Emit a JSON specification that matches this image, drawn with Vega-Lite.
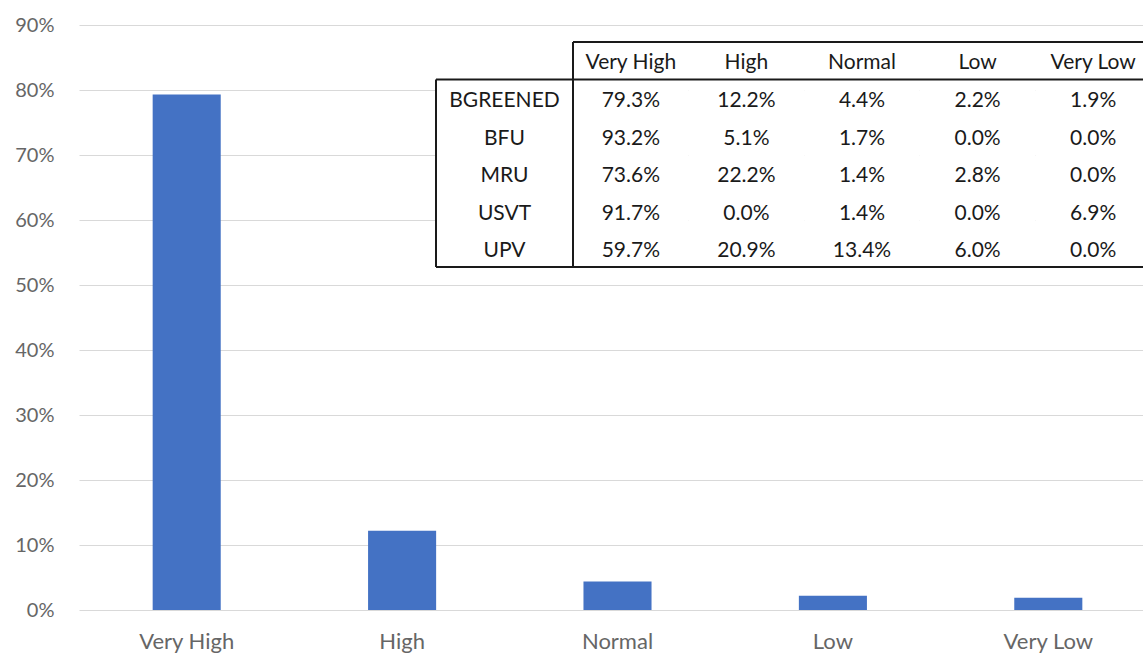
{
  "$schema": "https://vega.github.io/schema/vega-lite/v6.json",
  "width": 1064,
  "height": 585,
  "autosize": {"type": "none"},
  "padding": {"left": 79, "top": 25, "right": 0, "bottom": 46},
  "background": "white",
  "config": {
    "view": {"stroke": null},
    "font": "Lato",
    "text": {"font": "Lato"}
  },
  "datasets": {
    "tbl": [
      {"group": "BGREENED", "category": "Very High", "value": 0.793},
      {"group": "BGREENED", "category": "High", "value": 0.122},
      {"group": "BGREENED", "category": "Normal", "value": 0.044},
      {"group": "BGREENED", "category": "Low", "value": 0.022},
      {"group": "BGREENED", "category": "Very Low", "value": 0.019},
      {"group": "BFU", "category": "Very High", "value": 0.932},
      {"group": "BFU", "category": "High", "value": 0.051},
      {"group": "BFU", "category": "Normal", "value": 0.017},
      {"group": "BFU", "category": "Low", "value": 0.0},
      {"group": "BFU", "category": "Very Low", "value": 0.0},
      {"group": "MRU", "category": "Very High", "value": 0.736},
      {"group": "MRU", "category": "High", "value": 0.222},
      {"group": "MRU", "category": "Normal", "value": 0.014},
      {"group": "MRU", "category": "Low", "value": 0.028},
      {"group": "MRU", "category": "Very Low", "value": 0.0},
      {"group": "USVT", "category": "Very High", "value": 0.917},
      {"group": "USVT", "category": "High", "value": 0.0},
      {"group": "USVT", "category": "Normal", "value": 0.014},
      {"group": "USVT", "category": "Low", "value": 0.0},
      {"group": "USVT", "category": "Very Low", "value": 0.069},
      {"group": "UPV", "category": "Very High", "value": 0.597},
      {"group": "UPV", "category": "High", "value": 0.209},
      {"group": "UPV", "category": "Normal", "value": 0.134},
      {"group": "UPV", "category": "Low", "value": 0.06},
      {"group": "UPV", "category": "Very Low", "value": 0.0}
    ],
    "one": [{"k": 1}]
  },
  "layer": [
    {
      "data": {"name": "tbl"},
      "transform": [{"filter": "datum.group === 'BGREENED'"}],
      "mark": {"type": "bar", "color": "#4472C4"},
      "encoding": {
        "x": {
          "field": "category", "type": "nominal",
          "scale": {"domain": ["Very High", "High", "Normal", "Low", "Very Low"], "range": [0, 1077], "paddingInner": 0.684, "paddingOuter": 0.342},
          "axis": {"title": null, "domain": false, "ticks": false, "tickSize": 0, "labelAngle": 0, "labelFont": "Lato", "labelFontSize": 22, "labelColor": "#666666", "labelPadding": 21, "grid": false}
        },
        "y": {
          "field": "value", "type": "quantitative",
          "scale": {"domain": [0, 0.9], "nice": false},
          "axis": {"title": null, "values": [0, 0.1, 0.2, 0.3, 0.4, 0.5, 0.6, 0.7, 0.8, 0.9], "format": ".0%", "domain": false, "ticks": false, "tickSize": 0, "labelPadding": 25, "labelFont": "Lato", "labelFontSize": 20, "labelColor": "#666666", "grid": true, "gridColor": "#d9d9d9", "gridWidth": 1}
        }
      }
    },
    {
      "layer": [
        {
          "data": {"name": "tbl"},
          "transform": [{"aggregate": [{"op": "count", "as": "n"}], "groupby": ["group"]}],
          "mark": {"type": "rect", "fill": "white", "stroke": null},
          "encoding": {
            "x": {"datum": "label"},
            "y": {"field": "group", "type": "nominal"}
          }
        },
        {
          "data": {"name": "tbl"},
          "transform": [{"aggregate": [{"op": "count", "as": "n"}], "groupby": ["group"]}],
          "mark": {"type": "text", "fontSize": 21, "color": "#1a1a1a", "font": "Lato", "dy": 3},
          "encoding": {
            "x": {"datum": "label"},
            "y": {"field": "group", "type": "nominal"},
            "text": {"field": "group"}
          }
        },
        {
          "data": {"name": "one"},
          "mark": {"type": "rule", "color": "#1a1a1a", "strokeWidth": 2},
          "encoding": {
            "x": {"datum": "label", "bandPosition": 0},
            "x2": {"datum": "label", "bandPosition": 1},
            "y": {"datum": "BGREENED", "bandPosition": 0}
          }
        },
        {
          "data": {"name": "one"},
          "mark": {"type": "rule", "color": "#1a1a1a", "strokeWidth": 2},
          "encoding": {
            "x": {"datum": "label", "bandPosition": 0},
            "x2": {"datum": "label", "bandPosition": 1},
            "y": {"datum": "UPV", "bandPosition": 1}
          }
        },
        {
          "data": {"name": "one"},
          "mark": {"type": "rule", "color": "#1a1a1a", "strokeWidth": 2},
          "encoding": {
            "x": {"datum": "label", "bandPosition": 0},
            "y": {"datum": "BGREENED", "bandPosition": 0},
            "y2": {"datum": "UPV", "bandPosition": 1}
          }
        }
      ],
      "encoding": {
        "x": {"type": "nominal", "scale": {"type": "band", "domain": ["label"], "range": [357, 494], "paddingInner": 0, "paddingOuter": 0}, "axis": null},
        "y": {"type": "nominal", "scale": {"type": "band", "domain": ["header", "BGREENED", "BFU", "MRU", "USVT", "UPV"], "range": [17, 242], "paddingInner": 0, "paddingOuter": 0}, "axis": null}
      }
    },
    {
      "layer": [
        {
          "data": {"name": "tbl"},
          "mark": {"type": "rect", "fill": "white", "stroke": null},
          "encoding": {
            "x": {"field": "category", "type": "nominal"},
            "y": {"field": "group", "type": "nominal"}
          }
        },
        {
          "data": {"name": "tbl"},
          "mark": {"type": "text", "fontSize": 21, "color": "#1a1a1a", "font": "Lato", "dy": 3},
          "encoding": {
            "x": {"field": "category", "type": "nominal"},
            "y": {"field": "group", "type": "nominal"},
            "text": {"field": "value", "type": "quantitative", "format": ".1%"}
          }
        },
        {
          "data": {"name": "tbl"},
          "transform": [{"aggregate": [{"op": "count", "as": "n"}], "groupby": ["category"]}],
          "mark": {"type": "text", "fontSize": 21, "color": "#1a1a1a", "font": "Lato", "dy": 2},
          "encoding": {
            "x": {"field": "category", "type": "nominal"},
            "y": {"datum": "header"},
            "text": {"field": "category"}
          }
        },
        {
          "data": {"name": "one"},
          "mark": {"type": "rule", "color": "#1a1a1a", "strokeWidth": 2},
          "encoding": {
            "x": {"datum": "Very High", "bandPosition": 0},
            "x2": {"datum": "Very Low", "bandPosition": 1},
            "y": {"datum": "header", "bandPosition": 0}
          }
        },
        {
          "data": {"name": "one"},
          "mark": {"type": "rule", "color": "#1a1a1a", "strokeWidth": 2},
          "encoding": {
            "x": {"datum": "Very High", "bandPosition": 0},
            "x2": {"datum": "Very Low", "bandPosition": 1},
            "y": {"datum": "BGREENED", "bandPosition": 0}
          }
        },
        {
          "data": {"name": "one"},
          "mark": {"type": "rule", "color": "#1a1a1a", "strokeWidth": 2},
          "encoding": {
            "x": {"datum": "Very High", "bandPosition": 0},
            "x2": {"datum": "Very Low", "bandPosition": 1},
            "y": {"datum": "UPV", "bandPosition": 1}
          }
        },
        {
          "data": {"name": "one"},
          "mark": {"type": "rule", "color": "#1a1a1a", "strokeWidth": 2},
          "encoding": {
            "x": {"datum": "Very High", "bandPosition": 0},
            "y": {"datum": "header", "bandPosition": 0},
            "y2": {"datum": "UPV", "bandPosition": 1}
          }
        }
      ],
      "encoding": {
        "x": {"type": "nominal", "scale": {"type": "band", "domain": ["Very High", "High", "Normal", "Low", "Very Low"], "range": [494, 1072], "paddingInner": 0, "paddingOuter": 0}, "axis": null},
        "y": {"type": "nominal", "scale": {"type": "band", "domain": ["header", "BGREENED", "BFU", "MRU", "USVT", "UPV"], "range": [17, 242], "paddingInner": 0, "paddingOuter": 0}, "axis": null}
      }
    }
  ],
  "resolve": {"scale": {"x": "independent", "y": "independent"}, "axis": {"x": "independent", "y": "independent"}}
}
